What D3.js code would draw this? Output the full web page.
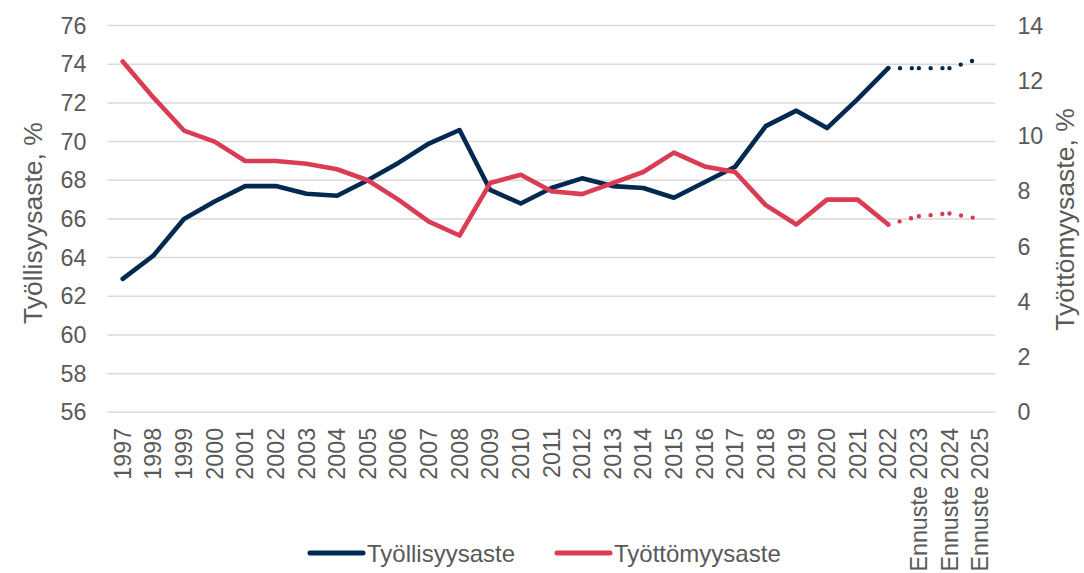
<!DOCTYPE html>
<html>
<head>
<meta charset="utf-8">
<script src="https://cdn.jsdelivr.net/npm/d3@7"></script>
<style>
  body { margin: 0; background: #fff; }
  svg text { font-family: "Liberation Sans", Arial, sans-serif; fill: #595959; }
</style>
</head>
<body>
<svg id="chart" width="1084" height="573"></svg>
<script>
// data
var categories = ["1997", "1998", "1999", "2000", "2001", "2002", "2003", "2004", "2005", "2006",
  "2007", "2008", "2009", "2010", "2011", "2012", "2013", "2014", "2015", "2016",
  "2017", "2018", "2019", "2020", "2021", "2022", "Ennuste 2023", "Ennuste 2024", "Ennuste 2025"];
var employment = [62.9, 64.1, 66.0, 66.9, 67.7, 67.7, 67.3, 67.2, 68.0, 68.9,
  69.9, 70.6, 67.5, 66.8, 67.6, 68.1, 67.7, 67.6, 67.1, 67.9,
  68.7, 70.8, 71.6, 70.7, 72.2, 73.8, 73.8, 73.8, 74.3];
var unemployment = [12.7, 11.4, 10.2, 9.8, 9.1, 9.1, 9.0, 8.8, 8.4, 7.7,
  6.9, 6.4, 8.3, 8.6, 8.0, 7.9, 8.3, 8.7, 9.4, 8.9,
  8.7, 7.5, 6.8, 7.7, 7.7, 6.8, 7.1, 7.2, 7.0];
var leftTicks = [56, 58, 60, 62, 64, 66, 68, 70, 72, 74, 76];
var rightTicks = [0, 2, 4, 6, 8, 10, 12, 14];
var lastActual = "2022";

var seriesNames = ["Työllisyysaste", "Työttömyysaste"];
var colors = ["#022a50", "#d93c53"];

var svg = d3.select("#chart"),
    plotLeft = 107.4, plotRight = 995.4, plotTop = 25.6, plotBottom = 412.3;

var x = d3.scaleBand().domain(categories).range([plotLeft, plotRight]).padding(0);
var yL = d3.scaleLinear().domain([56, 76]).range([plotBottom, plotTop]);
var yR = d3.scaleLinear().domain([0, 14]).range([plotBottom, plotTop]);

// gridlines
svg.append("g").selectAll("line")
    .data(leftTicks)
    .enter().append("line")
    .attr("x1", plotLeft).attr("x2", plotRight)
    .attr("y1", function (d) { return yL(d); })
    .attr("y2", function (d) { return yL(d); })
    .attr("stroke", "#d9d9d9")
    .attr("stroke-width", 1.5);

// axes
var gl = svg.append("g")
    .attr("transform", "translate(" + plotLeft + ",0)")
    .call(d3.axisLeft(yL).tickValues(leftTicks).tickSize(0).tickPadding(21));
var gr = svg.append("g")
    .attr("transform", "translate(" + plotRight + ",0)")
    .call(d3.axisRight(yR).tickValues(rightTicks).tickSize(0).tickPadding(22));
var gx = svg.append("g")
    .attr("transform", "translate(0," + plotBottom + ")")
    .call(d3.axisBottom(x).tickSize(0));

[gl, gr, gx].forEach(function (g) {
  g.select(".domain").remove();
  g.selectAll("text").attr("font-size", "23.3px").style("fill", "#595959")
    .style("font-family", "'Liberation Sans', Arial, sans-serif");
});

gx.selectAll(".tick text")
    .attr("transform", "rotate(-90)")
    .attr("text-anchor", "end")
    .attr("x", -15.5)
    .attr("y", 0)
    .attr("dy", "0.35em");

// axis titles
svg.append("text")
    .attr("transform", "translate(41.5,223) rotate(-90)")
    .attr("text-anchor", "middle")
    .attr("font-size", "26.5px")
    .text("Työllisyysaste, %");
svg.append("text")
    .attr("transform", "translate(1073.5,219.5) rotate(-90)")
    .attr("text-anchor", "middle")
    .attr("font-size", "26.5px")
    .text("Työttömyysaste, %");

// lines
var cut = categories.indexOf(lastActual);
function drawSeries(values, yScale, color) {
  var pts = values.map(function (v, i) {
    return [x(categories[i]) + x.bandwidth() / 2, yScale(v)];
  });
  var line = d3.line();
  svg.append("path")
      .attr("d", line(pts.slice(0, cut + 1)))
      .attr("fill", "none")
      .attr("stroke", color)
      .attr("stroke-width", 4.6)
      .attr("stroke-linejoin", "round")
      .attr("stroke-linecap", "round");
  // forecast: round dots, pattern restarts on each segment
  for (var i = cut; i < pts.length - 1; i++) {
    svg.append("path")
        .attr("d", line([pts[i], pts[i + 1]]))
        .attr("fill", "none")
        .attr("stroke", color)
        .attr("stroke-width", 4.4)
        .attr("stroke-linecap", "round")
        .attr("stroke-dasharray", "0 11.8");
  }
}
drawSeries(employment, yL, colors[0]);
drawSeries(unemployment, yR, colors[1]);

// legend
var legendX = [308, 555];
var legend = svg.append("g").selectAll("g")
    .data(seriesNames)
    .enter().append("g")
    .attr("transform", function (d, i) { return "translate(" + legendX[i] + ",553)"; });
legend.append("line")
    .attr("x1", 2).attr("x2", 55)
    .attr("stroke", function (d, i) { return colors[i]; })
    .attr("stroke-width", 5)
    .attr("stroke-linecap", "round");
legend.append("text")
    .attr("x", 59)
    .attr("y", 8.5)
    .attr("font-size", "24px")
    .text(function (d) { return d; });
</script>
</body>
</html>
